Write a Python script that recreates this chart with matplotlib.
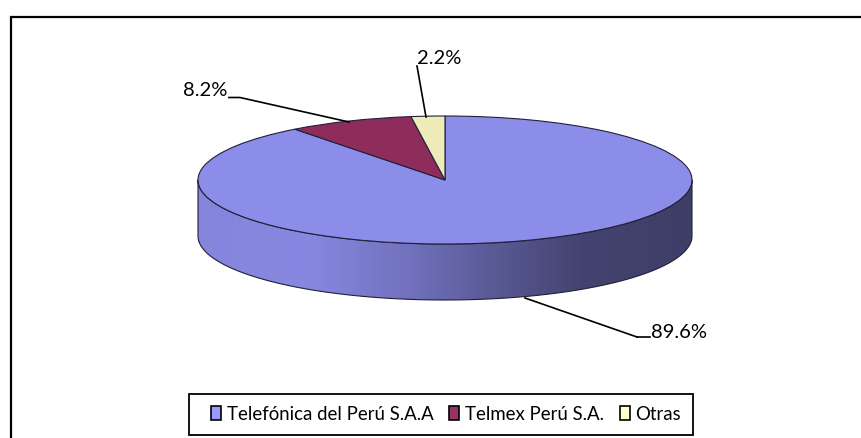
import numpy as np
import matplotlib
matplotlib.use("Agg")
import matplotlib.pyplot as plt
from matplotlib.colors import LinearSegmentedColormap
from matplotlib.patches import Patch, Polygon, Rectangle

categorias = ["Telefónica del Perú S.A.A", "Telmex Perú S.A.", "Otras"]
valores = [89.6, 8.2, 2.2]

colores_tapa = ["#8c8ce9", "#8e2d5c", "#edecb9"]
colores_leyenda = ["#9999ff", "#993366", "#ffffcc"]
colores_pared = [(0.0, "#8585dc"), (0.22, "#8888e2"), (0.42, "#7272bf"), (0.58, "#5c5c99"),
                 (0.78, "#434370"), (1.0, "#3e3e67")]

# elipse del pastel en pixeles de la imagen
W, H = 861, 438
CX, CY, RX, RY = 445, 180, 247, 64
PROF = 56 / RY

fig = plt.figure(figsize=(W / 100, H / 100), dpi=100, facecolor="white")
plt.rcParams["font.family"] = ["Lato", "DejaVu Sans"]

ax = fig.add_axes([0, 0, 1, 1])
ax.pie(valores, colors=colores_tapa, startangle=90, counterclock=False,
       wedgeprops={"edgecolor": "#20203a", "linewidth": 0.8})

# pared lateral con degradado
t = np.linspace(np.pi, 2 * np.pi, 200)
arriba = np.column_stack([np.cos(t), np.sin(t)])
abajo = np.column_stack([np.cos(t), np.sin(t) - PROF])
forma = Polygon(np.vstack([arriba, abajo[::-1]]), closed=True, transform=ax.transData,
                facecolor="none", edgecolor="#20203a", linewidth=0.8, zorder=0.5)
ax.add_patch(forma)
cmap = LinearSegmentedColormap.from_list("pared", colores_pared)
im = ax.imshow(np.linspace(0, 1, 256)[None, :], cmap=cmap, extent=(-1, 1, -1 - PROF, 0),
               aspect="auto", zorder=0.4)
im.set_clip_path(forma)

ax.set_aspect("auto")
ax.set_xlim(-CX / RX, (W - CX) / RX)
ax.set_ylim((CY - H) / RY, CY / RY)
ax.axis("off")

# capa en pixeles: marco, lineas guia, etiquetas
capa = fig.add_axes([0, 0, 1, 1], facecolor="none")
capa.set_xlim(0, W)
capa.set_ylim(H, 0)
capa.axis("off")

capa.plot([861, 11, 11], [16.5, 16.5, 438], color="black", lw=1.6, solid_joinstyle="miter")

guias = [([637, 650], [337, 337]), ([525, 637], [298, 337]),
         ([229, 240, 349], [97.5, 97.5, 122]), ([417, 426], [66, 117])]
for gx, gy in guias:
    capa.plot(gx, gy, color="black", lw=1.2)

pos_etiquetas = [(651, 333), (183, 91), (417, 58)]
for v, (x, y) in zip(valores, pos_etiquetas):
    capa.text(x, y, f"{v}%", fontsize=14.5, color="black", ha="left", va="center")

# marco de la leyenda aparte: el contenido no va centrado en la caja
capa.add_patch(Rectangle((189, 393.5), 504, 41, facecolor="white", edgecolor="black", linewidth=1.3))

handles = [Patch(facecolor=c, edgecolor="black", linewidth=1.2) for c in colores_leyenda]
ley = fig.legend(handles, categorias, ncols=3, loc="center",
                 bbox_to_anchor=(446 / W, 1 - 414 / H), fontsize=13.4, frameon=False,
                 handlelength=0.55, handleheight=0.75, handletextpad=0.3, columnspacing=0.85,
                 borderpad=0, borderaxespad=0)

fig.savefig("out.png", dpi=100, facecolor="white")
